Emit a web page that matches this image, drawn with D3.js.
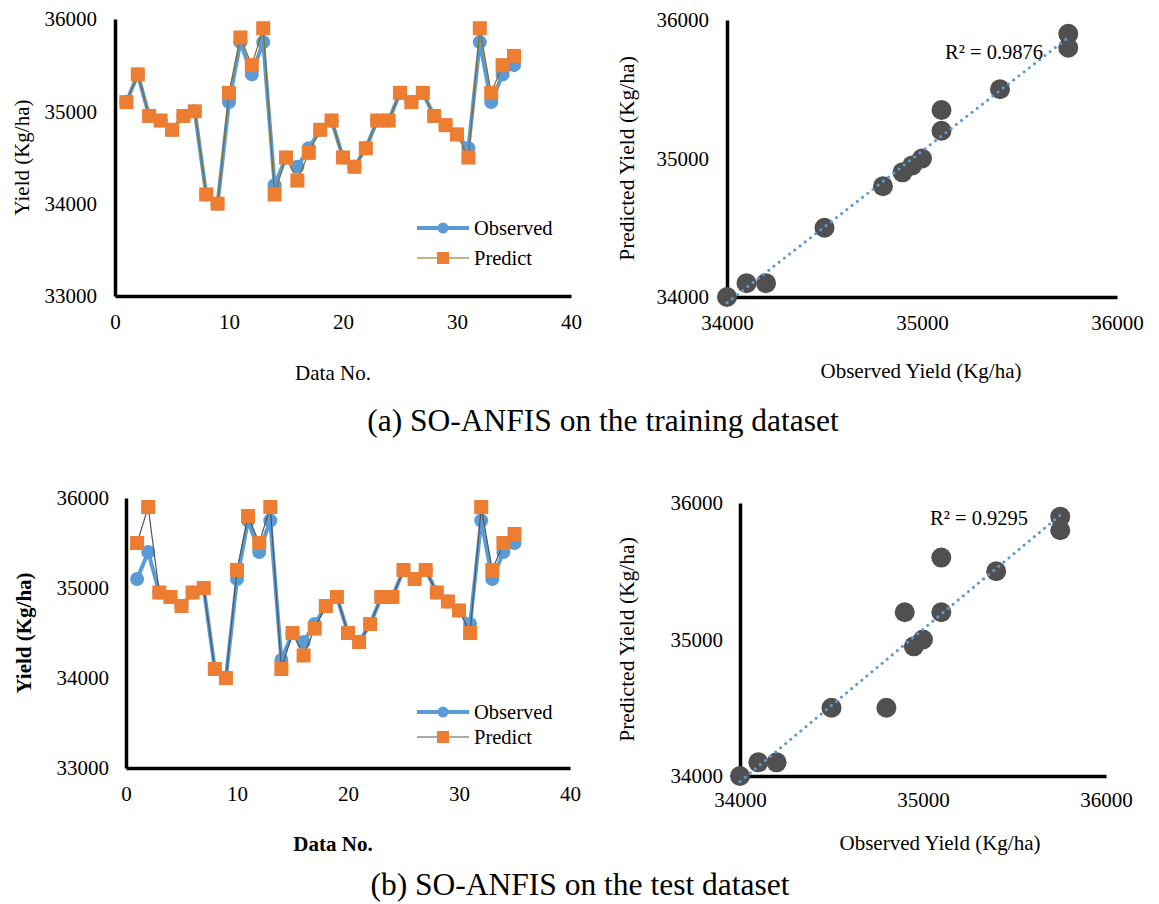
<!DOCTYPE html>
<html lang="en">
<head>
  <meta charset="UTF-8">
  <title>SO-ANFIS yield charts</title>
  <script src="https://d3js.org/d3.v7.min.js"></script>
  <style>
    body { margin: 0; background: #fff; }
    svg { display: block; font-family: "Liberation Serif", "Times New Roman", serif; }
    .axis path { stroke: #000; stroke-width: 3.5; }
    .axis text { font-size: 21px; fill: #000; font-family: "Liberation Serif", "Times New Roman", serif; }
  </style>
</head>
<body>
  <svg width="1159" height="904"></svg>
  <script>
    // data
    const dataNo = [1,2,3,4,5,6,7,8,9,10,11,12,13,14,15,16,17,18,19,20,21,22,23,24,25,26,27,28,29,30,31,32,33,34,35];

    const trainObserved = [35100,35400,34950,34900,34800,34950,35000,34100,34000,35100,35750,35400,35750,34200,34500,34400,34600,34800,34900,34500,34400,34600,34900,34900,35200,35100,35200,34950,34850,34750,34600,35750,35100,35400,35500];
    const trainPredict  = [35100,35400,34950,34900,34800,34950,35000,34100,34000,35200,35800,35500,35900,34100,34500,34250,34550,34800,34900,34500,34400,34600,34900,34900,35200,35100,35200,34950,34850,34750,34500,35900,35200,35500,35600];

    const testObserved = [35100,35400,34950,34900,34800,34950,35000,34100,34000,35100,35750,35400,35750,34200,34500,34400,34600,34800,34900,34500,34400,34600,34900,34900,35200,35100,35200,34950,34850,34750,34600,35750,35100,35400,35500];
    const testPredict  = [35500,35900,34950,34900,34800,34950,35000,34100,34000,35200,35800,35500,35900,34100,34500,34250,34550,34800,34900,34500,34400,34600,34900,34900,35200,35100,35200,34950,34850,34750,34500,35900,35200,35500,35600];

    // scatter points (observed, predicted)
    const trainScatterObs  = [34000,34100,34200,34500,34800,34900,34950,35000,35100,35100,35400,35750,35750];
    const trainScatterPred = [34000,34100,34100,34500,34800,34900,34950,35000,35200,35350,35500,35900,35800];
    const testScatterObs   = [34000,34100,34200,34500,34800,34900,34950,35000,35100,35100,35400,35750,35750];
    const testScatterPred  = [34000,34100,34100,34500,34500,35200,34950,35000,35200,35600,35500,35900,35800];

    const lineXTicks = [0,10,20,30,40];
    const lineYTicks = [33000,34000,35000,36000];
    const scatterTicks = [34000,35000,36000];
    const r2Labels = ["R\u00b2 = 0.9876", "R\u00b2 = 0.9295"];
    const captions = ["(a) SO-ANFIS on the training dataset", "(b) SO-ANFIS on the test dataset"];

    const svg = d3.select("svg");
    const blue = "#5B9BD5", orange = "#ED7D31";

    function drawLineChart(o) {
      const x = d3.scaleLinear().domain([0, 40]).range([o.left, o.right]);
      const y = d3.scaleLinear().domain([33000, 36000]).range([o.bottom, o.top]);
      const g = svg.append("g");

      g.append("g").attr("class", "axis")
        .attr("transform", `translate(0,${o.bottom})`)
        .call(d3.axisBottom(x).tickValues(lineXTicks).tickSize(0).tickPadding(o.xPad));
      g.append("g").attr("class", "axis")
        .attr("transform", `translate(${o.left},0)`)
        .call(d3.axisLeft(y).tickValues(lineYTicks).tickSize(0).tickPadding(o.yPad).tickFormat(d3.format("d")));

      const line = (vals) => d3.line().x((d, i) => x(dataNo[i])).y(d => y(d))(vals);

      g.append("path").attr("d", line(o.obs)).attr("fill", "none")
        .attr("stroke", blue).attr("stroke-width", 4).attr("stroke-linejoin", "round");
      g.selectAll(".obs").data(o.obs).join("circle")
        .attr("cx", (d, i) => x(dataNo[i])).attr("cy", d => y(d)).attr("r", 7).attr("fill", blue);

      g.append("path").attr("d", line(o.pred)).attr("fill", "none")
        .attr("stroke", o.predLine).attr("stroke-width", 1.2);
      g.selectAll(".pred").data(o.pred).join("rect")
        .attr("x", (d, i) => x(dataNo[i]) - 7).attr("y", d => y(d) - 7)
        .attr("width", 14).attr("height", 14).attr("fill", orange);

      // legend
      const lg = g.append("g");
      lg.append("line").attr("x1", 417).attr("x2", 469).attr("y1", o.legY).attr("y2", o.legY)
        .attr("stroke", blue).attr("stroke-width", 4);
      lg.append("circle").attr("cx", 443).attr("cy", o.legY).attr("r", 5.5).attr("fill", blue);
      lg.append("text").attr("x", 474).attr("y", o.legY).attr("dy", "0.35em")
        .attr("font-size", 20.5).text("Observed");
      lg.append("line").attr("x1", 417).attr("x2", 469).attr("y1", o.legY + o.legGap).attr("y2", o.legY + o.legGap)
        .attr("stroke", o.predLine).attr("stroke-width", 1.2);
      lg.append("rect").attr("x", 437).attr("y", o.legY + o.legGap - 6).attr("width", 12).attr("height", 12).attr("fill", orange);
      lg.append("text").attr("x", 474).attr("y", o.legY + o.legGap).attr("dy", "0.35em")
        .attr("font-size", 20.5).text("Predict");

      g.append("text").attr("x", 333).attr("y", o.xTitleY).attr("text-anchor", "middle")
        .attr("font-size", 21).attr("font-weight", o.bold ? "bold" : "normal").text("Data No.");
      g.append("text").attr("transform", `translate(${o.yTitleX},${(o.top + o.bottom) / 2}) rotate(-90)`)
        .attr("text-anchor", "middle").attr("dy", "0.35em")
        .attr("font-size", 21).attr("font-weight", o.bold ? "bold" : "normal").text("Yield (Kg/ha)");
    }

    function drawScatter(o) {
      const x = d3.scaleLinear().domain([34000, 36000]).range([o.left, o.right]);
      const y = d3.scaleLinear().domain([34000, 36000]).range([o.bottom, o.top]);
      const g = svg.append("g");

      g.append("g").attr("class", "axis")
        .attr("transform", `translate(0,${o.bottom})`)
        .call(d3.axisBottom(x).tickValues(scatterTicks).tickSize(0).tickPadding(o.xPad).tickFormat(d3.format("d")));
      g.append("g").attr("class", "axis")
        .attr("transform", `translate(${o.left},0)`)
        .call(d3.axisLeft(y).tickValues(scatterTicks).tickSize(0).tickPadding(o.yPad).tickFormat(d3.format("d")));

      g.selectAll(".pt").data(o.obs).join("circle")
        .attr("cx", d => x(d)).attr("cy", (d, i) => y(o.pred[i])).attr("r", 10).attr("fill", "#505050");

      // least squares trend line
      const mx = d3.mean(o.obs), my = d3.mean(o.pred);
      const b = d3.sum(o.obs, (d, i) => (d - mx) * (o.pred[i] - my)) / d3.sum(o.obs, d => (d - mx) * (d - mx));
      const a = my - b * mx;
      const [x0, x1] = d3.extent(o.obs);
      g.append("line")
        .attr("x1", x(x0)).attr("y1", y(a + b * x0)).attr("x2", x(x1)).attr("y2", y(a + b * x1))
        .attr("stroke", blue).attr("stroke-width", 3).attr("stroke-linecap", "round")
        .attr("stroke-dasharray", "0.1,6.5");

      g.append("text").attr("x", o.r2x).attr("y", o.r2y).attr("font-size", 20.5).text(o.r2);

      g.append("text").attr("x", o.xTitleX).attr("y", o.xTitleY).attr("text-anchor", "middle")
        .attr("font-size", 21).text("Observed Yield (Kg/ha)");
      g.append("text").attr("transform", `translate(626,${(o.top + o.bottom) / 2}) rotate(-90)`)
        .attr("text-anchor", "middle").attr("dy", "0.35em")
        .attr("font-size", 21.5).text("Predicted Yield (Kg/ha)");
    }

    drawLineChart({ left: 115, right: 571, top: 19, bottom: 296, xPad: 18, yPad: 18,
      obs: trainObserved, pred: trainPredict, predLine: "#8C6A14",
      legY: 228, legGap: 30, xTitleY: 380, yTitleX: 22, bold: false });
    drawLineChart({ left: 126, right: 570, top: 498, bottom: 768, xPad: 18, yPad: 17,
      obs: testObserved, pred: testPredict, predLine: "#555",
      legY: 712, legGap: 25, xTitleY: 851, yTitleX: 24, bold: true });

    drawScatter({ left: 727, right: 1117, top: 20, bottom: 297, xPad: 18, yPad: 18,
      obs: trainScatterObs, pred: trainScatterPred, r2: r2Labels[0], r2x: 945, r2y: 59,
      xTitleX: 921, xTitleY: 378 });
    drawScatter({ left: 740, right: 1106, top: 503, bottom: 776, xPad: 16, yPad: 17,
      obs: testScatterObs, pred: testScatterPred, r2: r2Labels[1], r2x: 930, r2y: 525,
      xTitleX: 940, xTitleY: 850 });

    svg.append("text").attr("x", 603).attr("y", 431).attr("text-anchor", "middle")
      .attr("font-size", 31.5).text(captions[0]);
    svg.append("text").attr("x", 580).attr("y", 895).attr("text-anchor", "middle")
      .attr("font-size", 31.5).text(captions[1]);
  </script>
</body>
</html>
